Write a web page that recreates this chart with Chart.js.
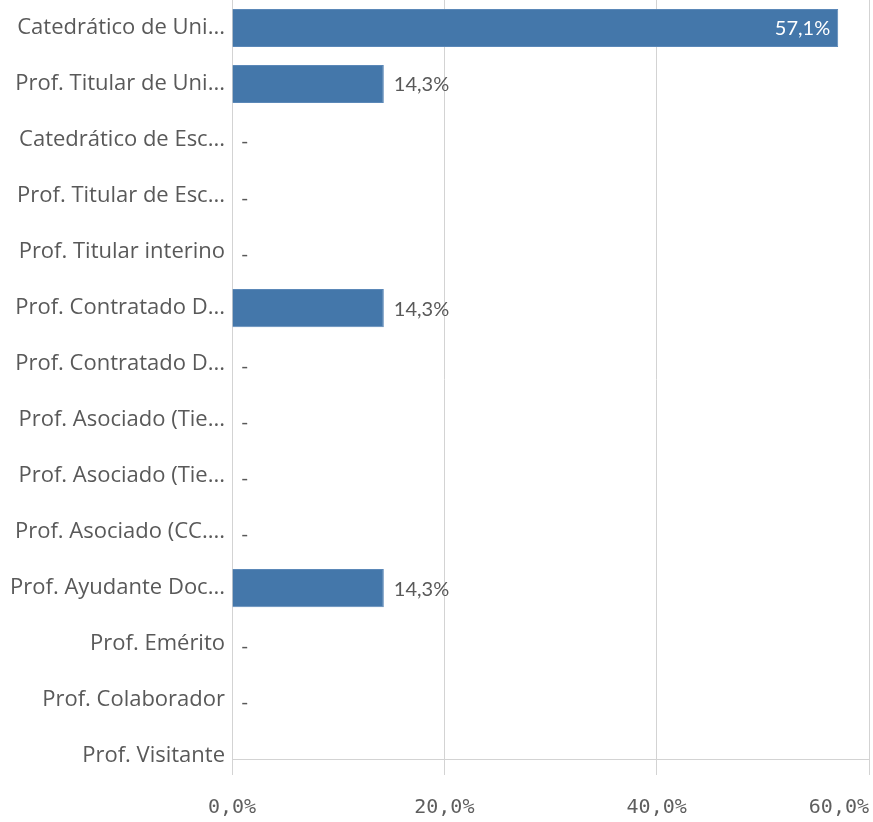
<!DOCTYPE html>
<html>
<head>
<meta charset="utf-8">
<script src="https://cdn.jsdelivr.net/npm/chart.js@4"></script>
<style>
  html, body { margin: 0; padding: 0; background: #fff; }
  #wrap { width: 873px; height: 822px; position: relative; }
</style>
</head>
<body>
<div id="wrap"><canvas id="chart"></canvas></div>
<script>
// categories as shown on the axis (Qlik truncates the long ones)
const categories = [
  "Catedrático de Uni...",
  "Prof. Titular de Uni...",
  "Catedrático de Esc...",
  "Prof. Titular de Esc...",
  "Prof. Titular interino",
  "Prof. Contratado D...",
  "Prof. Contratado D...",
  "Prof. Asociado (Tie...",
  "Prof. Asociado (Tie...",
  "Prof. Asociado (CC....",
  "Prof. Ayudante Doc...",
  "Prof. Emérito",
  "Prof. Colaborador",
  "Prof. Visitante"
];
// percent of staff, null = no data ("-")
const shares = [57.1, 14.3, null, null, null, 14.3, null, null, null, null, 14.3, null, null, null];
const xTicks = [0, 20, 40, 60];

const gridColor = '#d3d3d3';
const textColor = '#595959';
const barColor = '#4477aa';

function pct(v){
  return v.toFixed(1).replace('.', ',') + '%';
}

// draws the value next to / inside each bar, and "-" for empty rows
const valueLabels = {
  id: 'valueLabels',
  afterDatasetsDraw(chart){
    let ctx = chart.ctx;
    let area = chart.chartArea;
    let xs = chart.scales.x;
    let ys = chart.scales.y;
    let meta = chart.getDatasetMeta(0);
    ctx.save();
    ctx.font = '20px Lato';
    ctx.textBaseline = 'middle';
    for(let i = 0; i < shares.length; i++){
      let y = ys.getPixelForValue(i);
      // row cut off by the axis: Qlik shows nothing
      if(ys.getPixelForValue(i + 0.5) > area.bottom) continue;
      let v = shares[i];
      if(v === null){
        ctx.fillStyle = textColor;
        ctx.textAlign = 'left';
        ctx.fillText('-', xs.getPixelForValue(0) + 9, y + 2);
        continue;
      }
      let bar = meta.data[i];
      let txt = pct(v);
      let w = ctx.measureText(txt).width;
      if(area.right - bar.x >= w + 12){
        ctx.fillStyle = textColor;
        ctx.textAlign = 'left';
        ctx.fillText(txt, bar.x + 10, y + 1);
      }
      else {
        ctx.fillStyle = '#ffffff';
        ctx.textAlign = 'right';
        ctx.fillText(txt, bar.x - 8, y + 1);
      }
    }
    ctx.restore();
  }
};

let barData = shares.map((v, i) => ({x: v, y: i}));

let ctx = document.getElementById('chart');
let chart = new Chart(ctx, {
  type: 'bar',
  data: {
    datasets: [{
      data: barData,
      backgroundColor: barColor,
      borderColor: '#5b88b8',
      borderWidth: 1,
      borderSkipped: 'start',
      categoryPercentage: 1,
      barPercentage: 0.68
    }]
  },
  plugins: [valueLabels],
  options: {
    indexAxis: 'y',
    responsive: true,
    maintainAspectRatio: false,
    animation: false,
    layout: { padding: { top: 0, right: 4, bottom: 0, left: 0 } },
    plugins: {
      legend: { display: false },
      tooltip: { enabled: false }
    },
    scales: {
      x: {
        type: 'linear',
        position: 'bottom',
        min: 0,
        max: 60,
        afterBuildTicks: s => { s.ticks = xTicks.map(v => ({value: v})); },
        afterFit: s => { s.paddingRight = 0; s.height = 63; },
        grid: { color: gridColor, lineWidth: 1, drawTicks: true, tickLength: 16, tickColor: gridColor },
        border: { display: true, color: gridColor },
        ticks: {
          maxRotation: 0,
          autoSkip: false,
          padding: 21,
          color: '#5e5e5e',
          font: { family: 'DejaVu Sans Mono', size: 20 },
          // last label sits against the edge, push it left like Qlik does
          callback: (v) => v === xTicks[xTicks.length - 1] ? pct(v) + '     ' : pct(v)
        }
      },
      y: {
        type: 'linear',
        position: 'left',
        reverse: true,
        offset: false,
        min: -0.5,
        max: 13.05,
        afterBuildTicks: s => { s.ticks = categories.map((c, i) => ({value: i})); },
        afterFit: s => { s.width = 232; s.paddingTop = 0; s.paddingBottom = 0; },
        grid: { display: false, drawTicks: false },
        border: { display: true, color: gridColor },
        ticks: {
          autoSkip: false,
          padding: 7,
          color: textColor,
          font: { family: 'Open Sans', size: 22 },
          callback: (v) => categories[v]
        }
      }
    }
  }
});
</script>
</body>
</html>
